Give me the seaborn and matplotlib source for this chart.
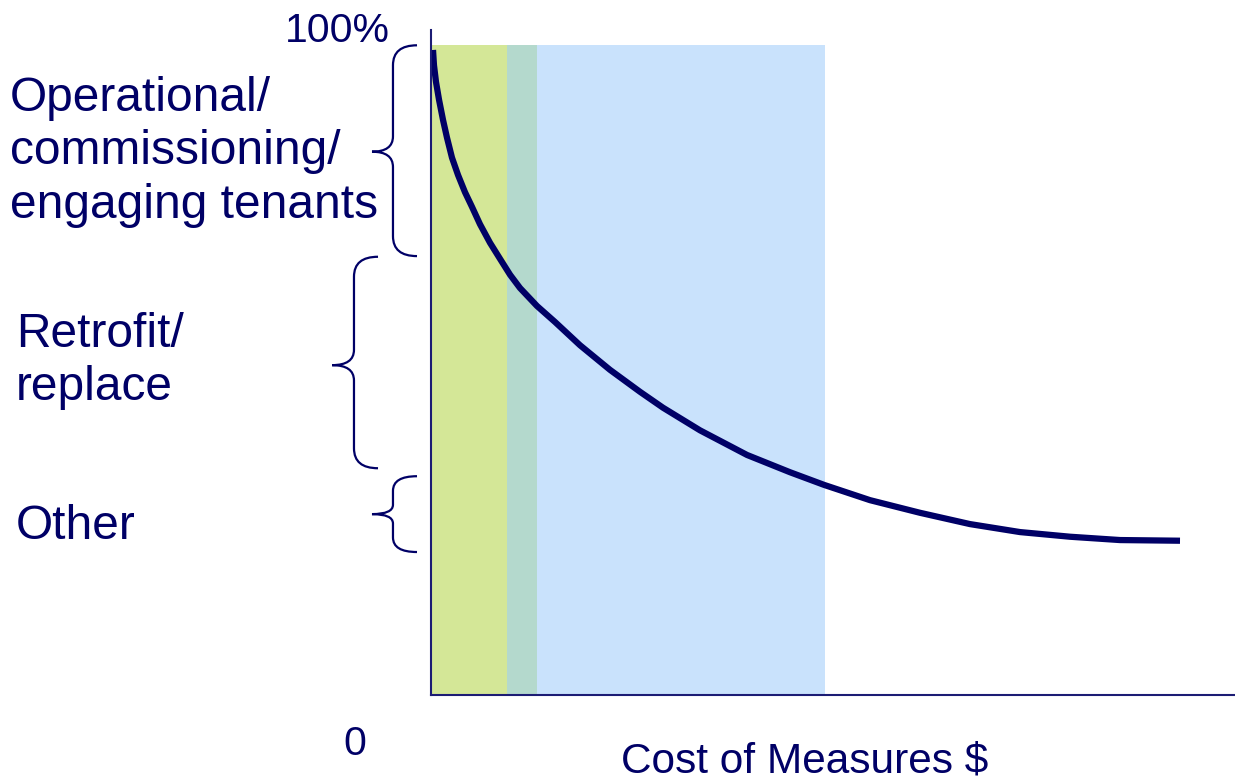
import matplotlib
matplotlib.use("Agg")
import matplotlib.pyplot as plt
from matplotlib.path import Path
from matplotlib.patches import PathPatch
import seaborn as sns
import pandas as pd

# Remaining share of savings potential (%) against cost of measures (axis %)
cost = [0.25, 0.37, 0.62, 1.00, 1.49, 1.99, 2.61, 3.36, 4.23, 5.10, 6.09, 7.34,
        8.58, 9.83, 11.07, 13.18, 15.42, 18.53, 22.26, 25.99, 28.86, 33.46,
        39.30, 44.65, 48.88, 54.60, 60.82, 67.04, 73.26, 79.48, 85.70, 93.16]
remaining = [97.0, 94.7, 92.2, 89.5, 86.5, 83.8, 80.8, 78.2, 75.6, 73.4, 70.8, 68.0,
             65.6, 63.2, 61.2, 58.5, 56.1, 52.6, 48.9, 45.6, 43.2, 39.8,
             36.1, 33.5, 31.6, 29.3, 27.4, 25.7, 24.5, 23.8, 23.3, 23.2]

# Shaded cost bands
band_start = [0.0, 9.45, 13.18]
band_end = [9.45, 13.18, 49.0]
band_top = 97.7
band_colors = ["#D4E797", "#B4D9CD", "#C9E2FC"]

# Measure categories: label lines and the vertical range (%) each brace spans
category_lines = [
    ["Operational/", "commissioning/", "engaging tenants"],
    ["Retrofit/", "replace"],
    ["Other"],
]
brace_top = [97.7, 65.9, 32.9]
brace_mid = [81.7, 49.6, 27.2]
brace_bottom = [66.0, 34.1, 21.5]

x_label = "Cost of Measures $"
y_top_label = "100%"
origin_label = "0"

NAVY = "#000066"

sns.set_style("white")
plt.rcParams["font.family"] = ["Liberation Sans", "DejaVu Sans"]

fig = plt.figure(figsize=(12.35, 7.83), dpi=100)
ax = fig.add_axes([431 / 1235, 88 / 783, 804 / 1235, 665 / 783])
ax.set_xlim(0, 100)
ax.set_ylim(0, 100)

for x0, x1, c in zip(band_start, band_end, band_colors):
    ax.axvspan(x0, x1, ymin=0, ymax=band_top / 100, color=c, lw=0, zorder=1)

df = pd.DataFrame({"cost": cost, "remaining": remaining})
sns.lineplot(data=df, x="cost", y="remaining", ax=ax, color=NAVY, lw=4.5,
             sort=False, solid_capstyle="butt", solid_joinstyle="round", zorder=3)

ax.set_xticks([])
ax.set_yticks([])
ax.set_xlabel("")
ax.set_ylabel("")
for side in ("top", "right"):
    ax.spines[side].set_visible(False)
for side in ("left", "bottom"):
    ax.spines[side].set_color("#1c1c74")
    ax.spines[side].set_linewidth(1.5)
    ax.spines[side].set_zorder(4)


def brace(x_end, x_spine, x_tip, top, mid, bot, r_end, r_tip):
    verts = [
        (x_end, top), (x_spine, top), (x_spine, top - r_end),
        (x_spine, mid + r_tip),
        (x_spine, mid), (x_tip, mid),
        (x_spine, mid), (x_spine, mid - r_tip),
        (x_spine, bot + r_end),
        (x_spine, bot), (x_end, bot),
    ]
    codes = [Path.MOVETO, Path.CURVE3, Path.CURVE3,
             Path.LINETO,
             Path.CURVE3, Path.CURVE3,
             Path.CURVE3, Path.CURVE3,
             Path.LINETO,
             Path.CURVE3, Path.CURVE3]
    patch = PathPatch(Path(verts, codes), fill=False, edgecolor=NAVY, lw=1.6,
                      clip_on=False, capstyle="butt")
    ax.add_patch(patch)


brace(-1.74, -4.73, -7.34, brace_top[0], brace_mid[0], brace_bottom[0], 3.0, 2.3)
brace(-6.59, -9.58, -12.3, brace_top[1], brace_mid[1], brace_bottom[1], 3.0, 2.3)
brace(-1.74, -4.73, -7.34, brace_top[2], brace_mid[2], brace_bottom[2], 2.2, 1.4)

text_kw = dict(color=NAVY, clip_on=False, va="baseline", ha="left")
label_x = [-52.4, -51.6, -51.6]
baselines = [[87.8, 79.8, 71.7], [52.3, 44.4], [23.5]]
for lines, lx, ys in zip(category_lines, label_x, baselines):
    for line, y in zip(lines, ys):
        ax.text(lx, y, line, fontsize=34.5, **text_kw)

ax.text(-5.1, 98.2, y_top_label, fontsize=29.5, color=NAVY, clip_on=False,
        va="baseline", ha="right")
ax.text(-10.9, -9.0, origin_label, fontsize=29.5, **text_kw)
ax.text(23.6, -11.7, x_label, fontsize=30.5, **text_kw)

fig.savefig("out.png", dpi=100)
